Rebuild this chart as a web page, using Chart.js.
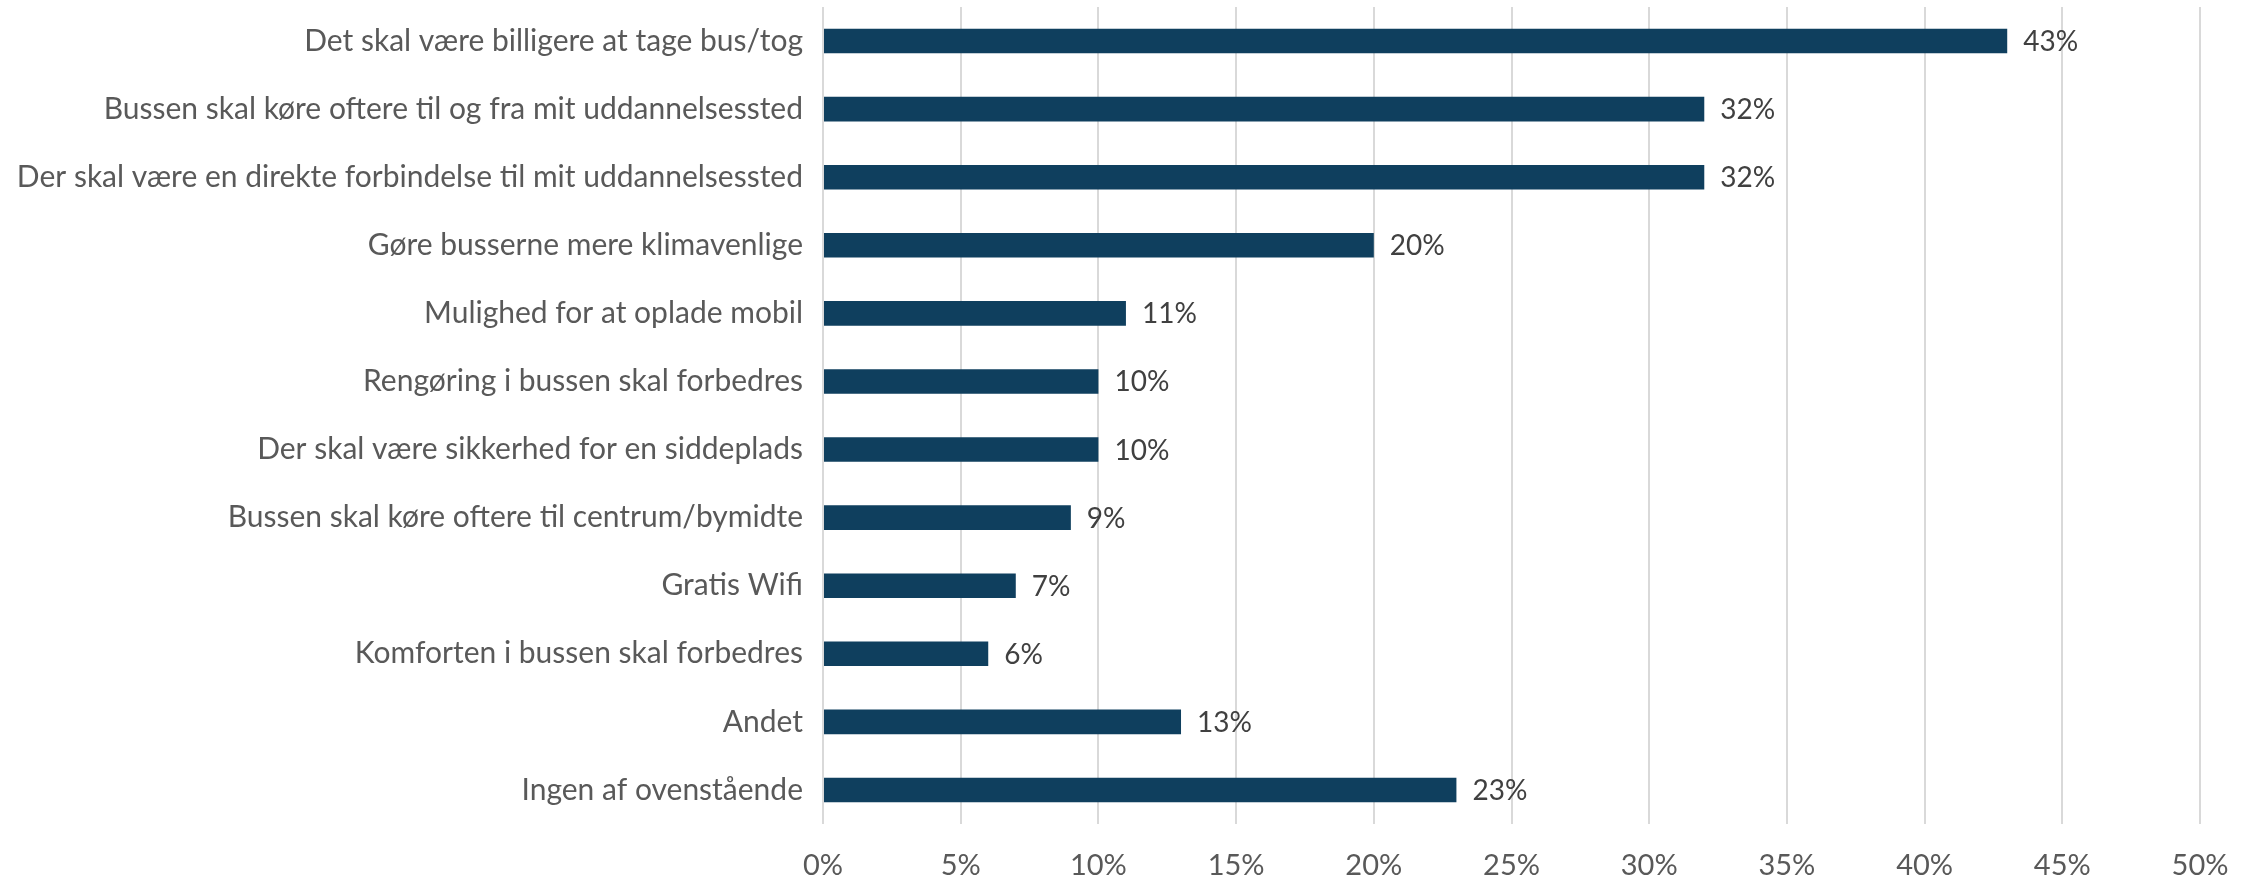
<!DOCTYPE html>
<html>
<head>
<meta charset="utf-8">
<script src="https://cdn.jsdelivr.net/npm/chart.js@4.4.1/dist/chart.umd.min.js"></script>
<style>
  html, body { margin: 0; padding: 0; background: #ffffff; }
  #wrap { width: 2255px; height: 879px; position: relative; }
</style>
</head>
<body>
<div id="wrap"><canvas id="chart"></canvas></div>
<script>
// Categories and values (percent)
const categories = [
  "Det skal være billigere at tage bus/tog",
  "Bussen skal køre oftere til og fra mit uddannelsessted",
  "Der skal være en direkte forbindelse til mit uddannelsessted",
  "Gøre busserne mere klimavenlige",
  "Mulighed for at oplade mobil",
  "Rengøring i bussen skal forbedres",
  "Der skal være sikkerhed for en siddeplads",
  "Bussen skal køre oftere til centrum/bymidte",
  "Gratis Wifi",
  "Komforten i bussen skal forbedres",
  "Andet",
  "Ingen af ovenstående",
];
const values = [43, 32, 32, 20, 11, 10, 10, 9, 7, 6, 13, 23];
const xTicks = [0, 5, 10, 15, 20, 25, 30, 35, 40, 45, 50];

const fontFamily = "Lato, 'Open Sans', sans-serif";

// Draw value labels at the end of each bar
const barLabels = {
  id: "barLabels",
  afterDatasetsDraw(chart) {
    const ctx = chart.ctx;
    const meta = chart.getDatasetMeta(0);
    ctx.save();
    ctx.font = "28px " + fontFamily;
    ctx.fillStyle = "#404040";
    ctx.textAlign = "left";
    ctx.textBaseline = "middle";
    meta.data.forEach((bar, i) => {
      ctx.fillText(values[i] + "%", bar.x + 16, bar.y + 1);
    });
    ctx.restore();
  },
};

new Chart(document.getElementById("chart").getContext("2d"), {
  type: "bar",
  data: {
    labels: categories,
    datasets: [
      {
        data: values,
        backgroundColor: "#0f3f5e",
        borderWidth: 0,
        barPercentage: 0.72,
        categoryPercentage: 0.5,
      },
    ],
  },
  options: {
    indexAxis: "y",
    responsive: true,
    maintainAspectRatio: false,
    animation: false,
    layout: { padding: { top: 7, right: 55, bottom: 0, left: 0 } },
    plugins: {
      legend: { display: false },
      tooltip: { enabled: false },
    },
    scales: {
      x: {
        min: 0,
        max: 50,
        afterBuildTicks: (axis) => {
          axis.ticks = xTicks.map((v) => ({ value: v }));
        },
        afterFit: (axis) => {
          axis.height = 55;
        },
        grid: {
          color: "#d9d9d9",
          lineWidth: 2,
          drawTicks: false,
        },
        border: { display: false },
        ticks: {
          padding: 24,
          color: "#595959",
          font: { family: fontFamily, size: 29 },
          callback: (v) => v + "%",
        },
      },
      y: {
        afterFit: (axis) => {
          axis.width = 823;
          axis.paddingTop = 0;
          axis.paddingBottom = 0;
        },
        grid: { display: false, drawTicks: false },
        border: { display: false },
        ticks: {
          padding: 20,
          color: "#595959",
          font: { family: fontFamily, size: 30 },
        },
      },
    },
  },
  plugins: [barLabels],
});
</script>
</body>
</html>
